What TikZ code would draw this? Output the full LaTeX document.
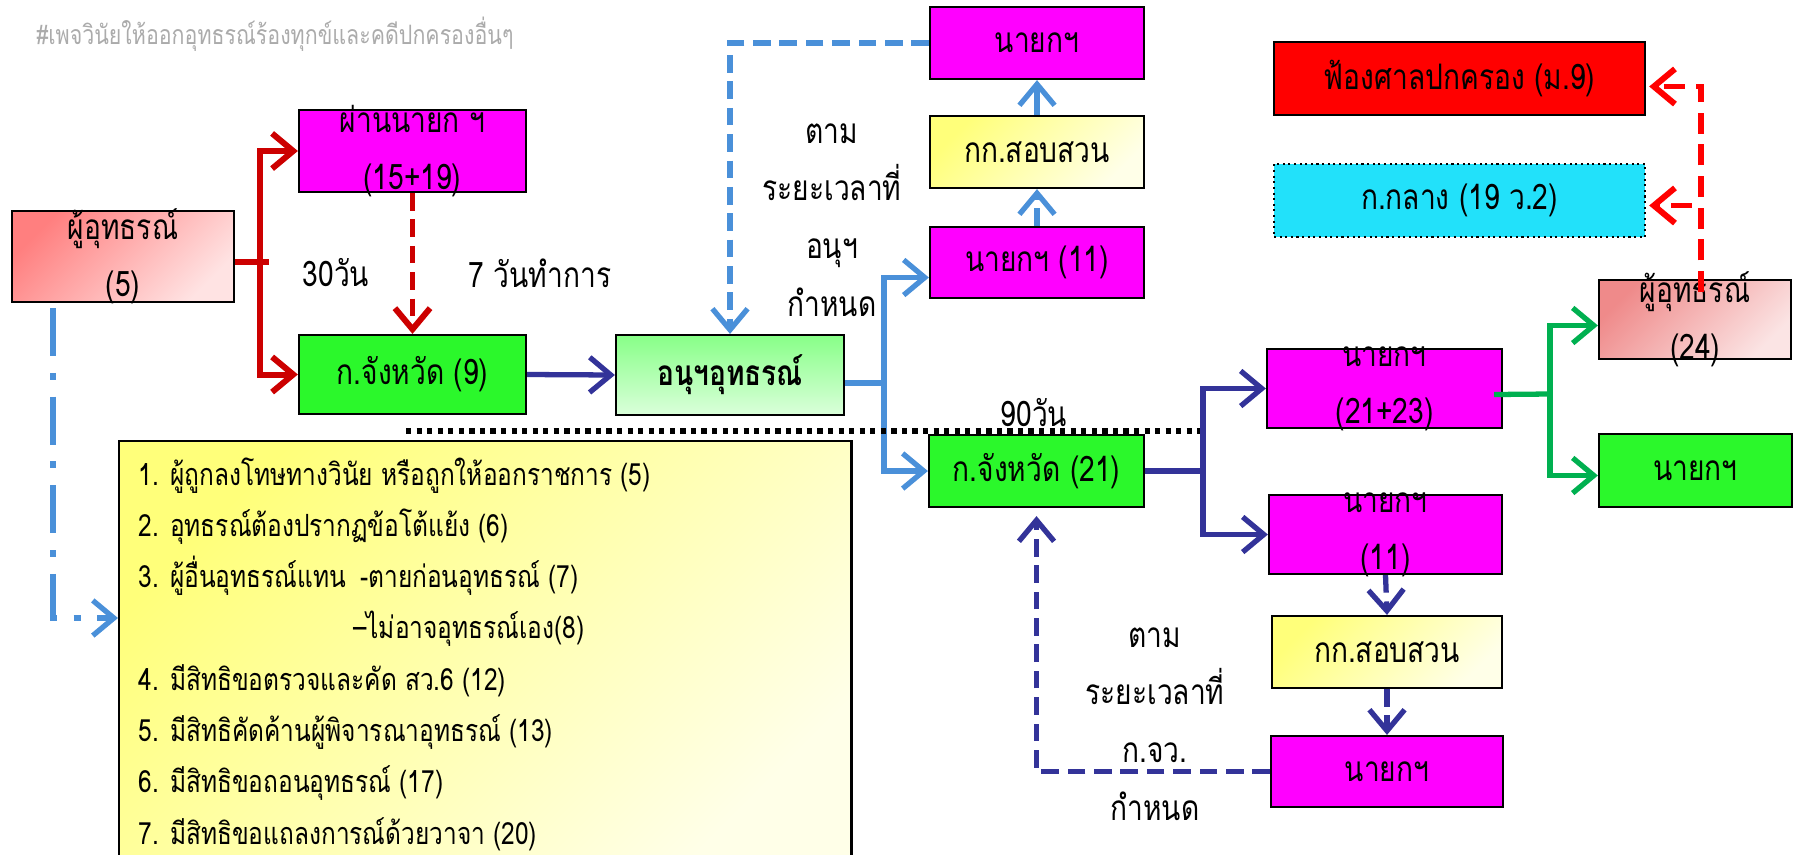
\documentclass[tikz,border=0pt]{standalone}
\usepackage{fontspec}
\setmainfont[Script=Thai,FakeStretch=0.8]{Loma}
\usetikzlibrary{arrows.meta,calc}
\definecolor{magbox}{HTML}{FF00FF}
\definecolor{grnbox}{HTML}{2BF82B}
\definecolor{cyanbox}{HTML}{22E1FA}
\definecolor{redbox}{HTML}{FF0000}
\definecolor{darkred}{HTML}{CC0000}
\definecolor{lblue}{HTML}{4A90D9}
\definecolor{navy}{HTML}{333399}
\definecolor{grnline}{HTML}{00B050}
\definecolor{pinkA}{HTML}{FF7F7F}
\definecolor{pinkB}{HTML}{FFE3E3}
\definecolor{roseA}{HTML}{EF8A8A}
\definecolor{roseB}{HTML}{FBE4E4}
\definecolor{yelA}{HTML}{FFFF7A}
\definecolor{yelB}{HTML}{FFFFE8}
\definecolor{mintA}{HTML}{88FF88}
\definecolor{mintB}{HTML}{DAFFDA}
\tikzstyle{box}=[draw=black,line width=0.6pt,inner sep=0pt,font=\fontsize{10}{16.2}\selectfont]
\tikzstyle{mag}=[box,fill=magbox]
\tikzstyle{grn}=[box,fill=grnbox]
\tikzstyle{yel}=[box,left color=yelA,right color=yelB,shading angle=45]
\tikzstyle{dbl}=[align=center,inner sep=0pt,font=\fontsize{10}{16.2}\selectfont]
\tikzstyle{lab}=[align=center,inner sep=0pt,font=\fontsize{10}{16.4}\selectfont]
\tikzstyle{item}=[anchor=base west,inner sep=0pt,font=\fontsize{8.7}{10}\selectfont]
\tikzstyle{arr}=[-{Straight Barb[length=6pt,width=10pt]}]
\tikzstyle{redln}=[draw=darkred,line width=1.7pt]
\tikzstyle{bluln}=[draw=lblue,line width=1.5pt]
\tikzstyle{navln}=[draw=navy,line width=1.5pt]
\tikzstyle{grnln}=[draw=grnline,line width=1.5pt]
\tikzstyle{dsh}=[dash pattern=on 5pt off 2.5pt]

\begin{document}
\begin{tikzpicture}[x=0.01cm,y=-0.01cm]
	\useasboundingbox (0,0) rectangle (1798,854);
	\node[inner sep=0pt,text=black!33,font=\fontsize{7.6}{10}\selectfont] (ttl) at (275,34) {\#เพจวินัยให้ออกอุทธรณ์ร้องทุกข์และคดีปกครองอื่นๆ};

	% left part
	\node[box,minimum width=2.22cm,minimum height=0.91cm,left color=pinkA,right color=pinkB,shading angle=45,label={[dbl]center:ผู้อุทธรณ์\\(5)}] (app5) at (123,256.5) {};
	\node[mag,minimum width=2.27cm,minimum height=0.82cm,label={[dbl]center:ผ่านนายก ฯ\\(15+19)}] (pm) at (412.5,151) {};
	\node[grn,minimum width=2.27cm,minimum height=0.79cm] (cj9) at (412.5,374.5) {ก.จังหวัด (9)};
	\node[box,minimum width=2.28cm,minimum height=0.8cm,top color=mintA,bottom color=mintB,font=\fontsize{10}{12}\bfseries] (anu) at (730,375) {อนุฯอุทธรณ์};
	\node[lab] (d30) at (336,273) {30วัน};
	\node[lab] (d7) at (540,273) {7 วันทำการ};
	\node[yel,anchor=north west,minimum width=7.32cm,minimum height=4.3cm] (rights) at (118,440) {};
	\foreach \t [count=\i] in {{1. ผู้ถูกลงโทษทางวินัย หรือถูกให้ออกราชการ (5)},{2. อุทธรณ์ต้องปรากฏข้อโต้แย้ง (6)},{\makebox[63pt][l]{3. ผู้อื่นอุทธรณ์แทน}-ตายก่อนอุทธรณ์ (7)},{\hspace*{61pt}–ไม่อาจอุทธรณ์เอง(8)},{4. มีสิทธิขอตรวจและคัด สว.6 (12)},{5. มีสิทธิคัดค้านผู้พิจารณาอุทธรณ์ (13)},{6. มีสิทธิขอถอนอุทธรณ์ (17)},{7. มีสิทธิขอแถลงการณ์ด้วยวาจา (20)}}
		\node[item] (it\i) at (138,{485+51.3*(\i-1)}) {\t};

	% middle part
	\node[mag,minimum width=2.14cm,minimum height=0.72cm] (nktop) at (1037,43) {นายกฯ};
	\node[yel,minimum width=2.14cm,minimum height=0.72cm] (inv1) at (1037,152) {กก.สอบสวน\hspace{6pt}};
	\node[mag,minimum width=2.14cm,minimum height=0.71cm] (nk11) at (1037,262.5) {นายกฯ (11)};
	\node[grn,minimum width=2.15cm,minimum height=0.72cm] (cj21) at (1036.5,471) {ก.จังหวัด (21)};
	\node[lab] (t1) at (832,220) {ตาม\\ระยะเวลาที่\\อนุฯ\\กำหนด};
	\node[lab] (t2) at (1155,724) {ตาม\\ระยะเวลาที่\\ก.จว.\\กำหนด};
	\node[lab] (d90) at (1034,413) {90วัน};
	\coordinate (dl) at (406,431);
	\coordinate (dr) at (1202,431);

	% right part
	\node[mag,minimum width=2.35cm,minimum height=0.79cm,label={[dbl]center:นายกฯ\\(21+23)}] (nk2123) at (1384.5,388.5) {};
	\node[mag,minimum width=2.33cm,minimum height=0.79cm,label={[dbl]center:นายกฯ\\(11)}] (nk11b) at (1385.5,534.5) {};
	\node[yel,minimum width=2.3cm,minimum height=0.72cm] (inv2) at (1387,652) {กก.สอบสวน\hspace{12pt}};
	\node[mag,minimum width=2.32cm,minimum height=0.71cm] (nkbot) at (1387,771.5) {นายกฯ};
	\node[box,minimum width=1.92cm,minimum height=0.79cm,left color=roseA,right color=roseB,shading angle=45,label={[dbl]center:ผู้อุทธรณ์\\(24)}] (app24) at (1695,319.5) {};
	\node[grn,minimum width=1.93cm,minimum height=0.73cm] (nkg) at (1695.5,470.5) {นายกฯ};
	\node[box,fill=redbox,minimum width=3.71cm,minimum height=0.73cm] (court) at (1459.5,78.5) {ฟ้องศาลปกครอง (ม.9)};
	\node[box,fill=cyanbox,densely dotted,minimum width=3.71cm,minimum height=0.73cm] (cent) at (1459.5,200.5) {ก.กลาง (19 ว.2)};

	% connectors
	\coordinate (rs) at (260,262);
	\draw[redln] (app5.east |- rs) -- ++(34,0);
	\draw[redln,arr] (rs) |- (pm.west);
	\draw[redln,arr] (rs) |- (cj9.west);
	\draw[redln,dsh,arr] (pm.south) -- (cj9.north);
	\draw[navln,arr] (cj9.east) -- (anu.west);
	\draw[lblue,line width=1.5pt,dash pattern=on 13.6pt off 4.8pt on 2pt off 4.8pt,arr] ($(app5.south west)+(42,5)$) |- ($(rights.north west)+(0,178)$);
	\draw[bluln,dsh,arr] (nktop.west) -| (anu.north);
	\coordinate (bs) at (884,383);
	\draw[bluln] (anu.east |- bs) -- (bs);
	\draw[bluln,arr] (bs) |- ($(nk11.west)+(0,15)$);
	\draw[bluln,arr] (bs) |- (cj21.west);
	\draw[bluln,dsh,arr] (nk11.north) -- (inv1.south);
	\draw[bluln,arr] (inv1.north) -- (nktop.south);
	\draw[black,line width=1.5pt,dash pattern=on 1.5pt off 1.5pt] (dl) -- (dr);
	\coordinate (ns) at (1203,471);
	\draw[navln] (cj21.east) -- (ns);
	\draw[navln,arr] (ns) |- (nk2123.west);
	\draw[navln,arr] (ns) |- (nk11b.west);
	\draw[navln,dsh,arr] (nk11b.south) -- (inv2.north);
	\draw[navln,dsh,arr] (inv2.south) -- (nkbot.north);
	\draw[navln,dsh,arr] (nkbot.west) -| ($(cj21.south)+(0,8)$);
	\coordinate (gs) at (1550,394);
	\draw[grnln] ($(nk2123.east)+(-9,6)$) -- (gs);
	\draw[grnln,arr] (gs) |- ($(app24.west)+(0,6)$);
	\draw[grnln,arr] (gs) |- ($(nkg.west)+(0,5)$);
	\coordinate (rv) at (1701,292);
	\draw[draw=redbox,line width=1.7pt,dash pattern=on 6pt off 3pt,arr] (rv) |- ($(court.east)+(3,8)$);
	\draw[draw=redbox,line width=1.7pt,dash pattern=on 6pt off 3pt,arr] ($(rv |- cent.east)+(-9,5)$) -- ($(cent.east)+(3,5)$);
\end{tikzpicture}
\end{document}
